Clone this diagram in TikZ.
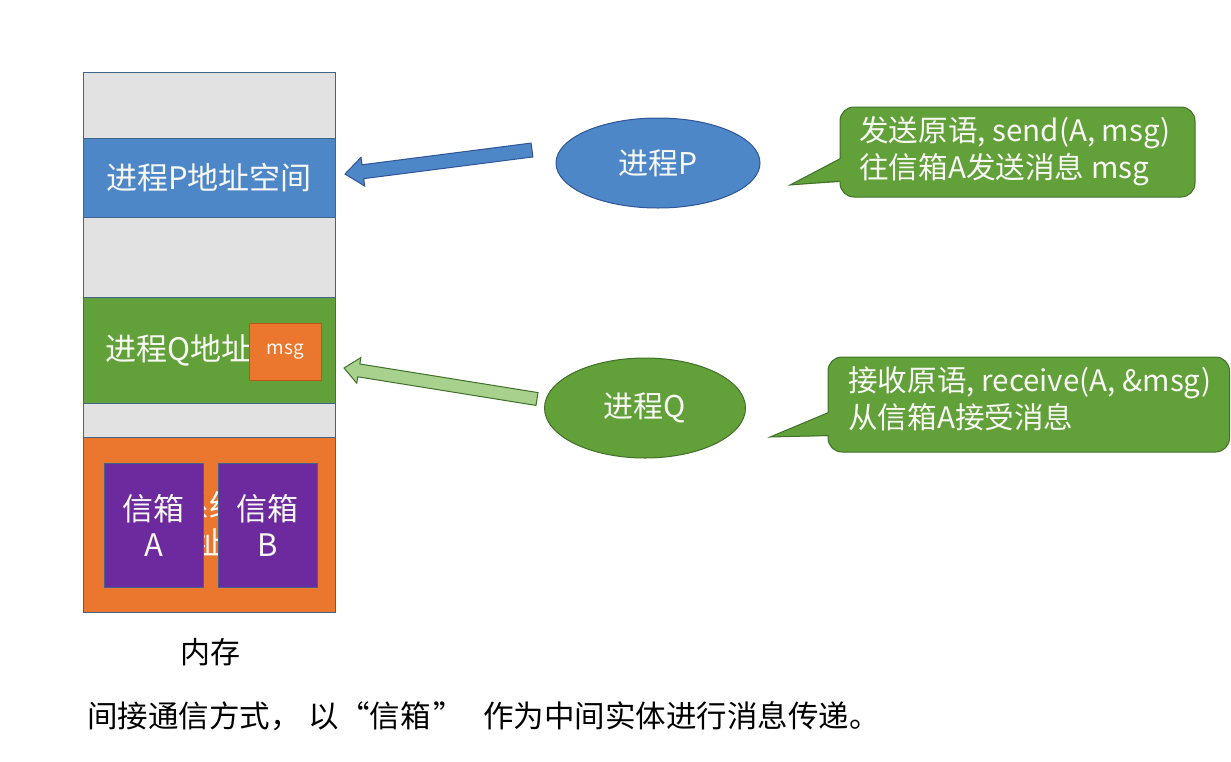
\documentclass[tikz,border=0pt]{standalone}
\usepackage{fontspec}
\setmainfont{Noto Sans CJK SC}
\usetikzlibrary{calc,shapes.geometric}
\definecolor{bluefill}{RGB}{78,135,200}
\definecolor{blueline}{RGB}{47,85,151}
\definecolor{greenfill}{RGB}{98,160,58}
\definecolor{greenline}{RGB}{62,112,40}
\definecolor{lgreen}{RGB}{169,209,142}
\definecolor{orangefill}{RGB}{235,118,45}
\definecolor{orangeline}{RGB}{190,85,25}
\definecolor{purplefill}{RGB}{108,42,158}
\definecolor{grayfill}{RGB}{226,226,226}
\definecolor{memline}{RGB}{65,100,140}
\definecolor{txtwhite}{RGB}{248,248,244}
\newcommand\fatarrow[6]{%
  \coordinate (#2-b) at ($(#3)!#6!(#2)$);
  \filldraw[#1] ($(#2)!#4!90:(#3)$) -- ($(#2-b)!#4!-90:(#2)$) -- ($(#2-b)!#5!-90:(#2)$) -- (#3)
    -- ($(#2-b)!#5!90:(#2)$) -- ($(#2-b)!#4!90:(#2)$) -- ($(#2)!#4!-90:(#3)$) -- cycle;}
\begin{document}
\begin{tikzpicture}[x=1pt,y=-1pt,
  sect/.style={draw=memline, line width=1.2pt, anchor=north west, inner sep=0pt, minimum width=252pt},
  lbl/.style={text=txtwhite, font=\fontsize{31}{37}\selectfont, inner sep=0pt, align=center},
  mbox/.style={draw=memline, line width=0.8pt, fill=purplefill, anchor=north west, inner sep=0pt,
    minimum width=99pt, minimum height=124pt, text=txtwhite, font=\fontsize{31}{36}\selectfont, align=center},
  proc/.style={ellipse, line width=1pt, inner sep=0pt, text=txtwhite, font=\fontsize{30}{36}\selectfont},
  bubble/.style={fill=greenfill, draw=greenline, line width=1pt, rounded corners=14pt},
  bubtext/.style={anchor=north west, inner sep=0pt, text=txtwhite, align=left, font=\fontsize{29.6}{37}\selectfont},
  blackt/.style={inner sep=0pt, text=black, font=\fontsize{30}{36}\selectfont}]
\useasboundingbox (0,0) rectangle (1231,761);
% memory column
\node[sect, fill=grayfill, minimum height=66pt] (g1) at (83,72) {};
\node[sect, fill=bluefill, minimum height=79pt] (pbox) at (83,138) {};
\node[sect, fill=grayfill, minimum height=80pt] (g2) at (83,217) {};
\node[sect, fill=greenfill, minimum height=106pt] (qbox) at (83,297) {};
\node[sect, fill=grayfill, minimum height=34pt] (g3) at (83,403) {};
\node[sect, fill=orangefill, minimum height=175pt] (kbox) at (83,437) {};
\node[lbl] (ptext) at (209,178) {进程P地址空间};
\node[lbl] (qtext) at (210,350) {进程Q地址空间};
\node[lbl] (ktext) at (209,524) {操作系统内核\\的地址空间};
\node[draw=orangeline, line width=0.8pt, fill=orangefill, anchor=north west, inner sep=0pt,
  minimum width=72pt, minimum height=57pt, text=txtwhite, font=\fontsize{19}{22}\selectfont] (msg) at (249,323) {msg};
\node[mbox] (ma) at (104,463) {信箱\\A};
\node[mbox] (mb) at (218,463) {信箱\\B};
\node[blackt] (memlbl) at (210,652) {内存};
% processes
\node[proc, draw=blueline, fill=bluefill, minimum width=204pt, minimum height=90pt] (P) at (658,163) {进程P};
\node[proc, draw=greenline, fill=greenfill, minimum width=201pt, minimum height=100pt] (Q) at (645,408) {进程Q};
% arrows
\coordinate (bT) at (532,150);
\coordinate (bH) at (345,174);
\coordinate (gT) at (537,399);
\coordinate (gH) at (344,368);
\fatarrow{fill=bluefill, draw=blueline, line width=1pt}{bT}{bH}{7pt}{14.5pt}{18pt}
\fatarrow{fill=lgreen, draw=greenline, line width=1pt}{gT}{gH}{6.5pt}{13pt}{15pt}
% callout P
\draw[bubble] (840,107) rectangle (1195,197);
\coordinate (ptip) at (790,185);
\fill[greenfill] (842,158) -- (ptip) -- (842,182) -- cycle;
\draw[greenline, line width=1pt, line join=miter] (840.5,158.5) -- (ptip) -- (840.5,181);
\node[bubtext] (ptx) at (859,116) {发送原语, send(A, msg)\\往信箱A发送消息 msg};
% callout Q
\draw[bubble] (828,357) rectangle (1229.5,452);
\coordinate (qtip) at (770,437);
\fill[greenfill] (830,412) -- (qtip) -- (830,436) -- cycle;
\draw[greenline, line width=1pt, line join=miter] (828.5,412.5) -- (qtip) -- (828.5,435.5);
\node[bubtext] (qtx) at (848,366) {接收原语, receive(A, \&msg)\\从信箱A接受消息};
% caption
\node[blackt, anchor=west, font=\fontsize{30.5}{34}\selectfont] (cap) at (87,716)
  {间接通信方式，\hspace{8pt}以\makebox[1em][r]{“}信箱\makebox[1.2em][c]{”}\hspace{16pt}作为中间实体进行消息传递。};
\end{tikzpicture}
\end{document}
